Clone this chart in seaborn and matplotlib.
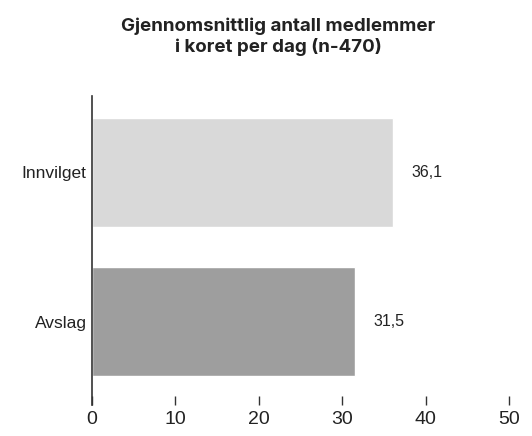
import matplotlib
matplotlib.use("Agg")
import matplotlib.pyplot as plt
import seaborn as sns
import pandas as pd

categories = ['Innvilget', 'Avslag']
values = [36.1, 31.5]
colors = ['#d9d9d9', '#9e9e9e']

df = pd.DataFrame({'Status': categories, 'Medlemmer': values})

sns.set_style("white")
plt.rcParams['font.family'] = ['Liberation Sans', 'DejaVu Sans']

fig = plt.figure(figsize=(5.32, 4.36), dpi=100)
ax = fig.add_axes([0.173, 0.07, 0.784, 0.71])

sns.barplot(data=df, y='Status', x='Medlemmer', hue='Status', palette=colors,
            orient='h', width=0.73, legend=False, ax=ax, saturation=1)

ax.set_xlim(0, 50)
ax.set_ylim(1.56, -0.51)
ax.set_xticks([0, 10, 20, 30, 40, 50])
ax.set_xlabel('')
ax.set_ylabel('')

for s in ['top', 'right', 'bottom']:
    ax.spines[s].set_visible(False)
ax.spines['left'].set_color('#333333')
ax.spines['left'].set_linewidth(1.2)

ax.tick_params(axis='x', direction='in', length=6.5, width=1, color='#333333',
               labelsize=14, pad=4, labelcolor='#222222', bottom=True)
ax.tick_params(axis='y', length=0, labelsize=12.5, pad=4, labelcolor='#222222')

for i, v in enumerate(values):
    ax.text(v + 2.2, i, f'{v:.1f}'.replace('.', ','), va='center', ha='left',
            fontsize=11.5, color='#222222')

fig.suptitle('Gjennomsnittlig antall medlemmer\ni koret per dag (n-470)',
             x=0.523, y=0.96, fontsize=13.5, fontweight='bold',
             family=['Inter', 'DejaVu Sans'], color='#222222', linespacing=1.2)

fig.savefig('out.png', dpi=100)
